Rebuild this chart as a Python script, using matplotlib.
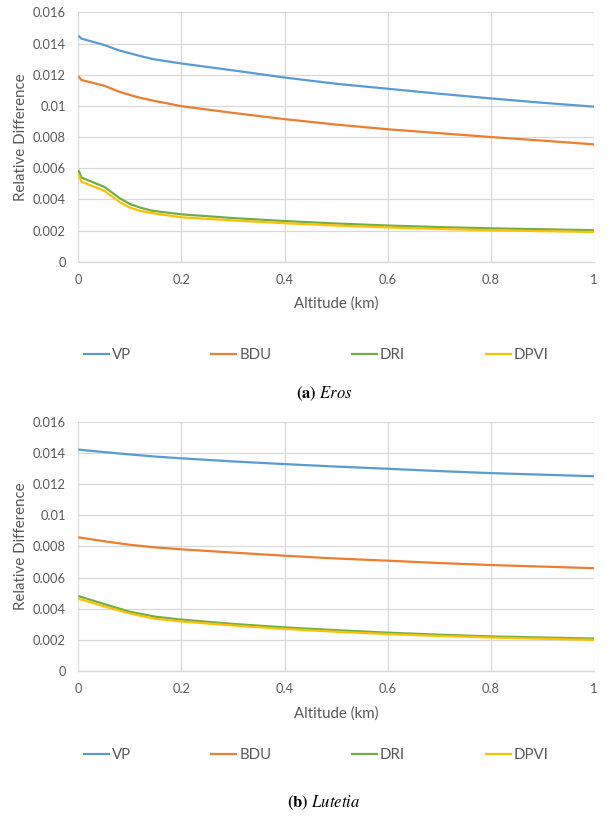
import matplotlib
matplotlib.use("Agg")
import matplotlib.pyplot as plt

plt.rcParams['font.family'] = ['Lato', 'DejaVu Sans']
plt.rcParams['mathtext.fontset'] = 'stix'

series = ["VP", "BDU", "DRI", "DPVI"]
colors = ["#5B9BD5", "#ED7D31", "#70AD47", "#FFC000"]

# (a) Eros
eros_alt = [0, 0.006, 0.05, 0.08, 0.1, 0.12, 0.145, 0.2, 0.3, 0.4, 0.5, 0.6, 0.7, 0.8, 0.9, 1.0]
eros_vp = [0.01451, 0.01432, 0.01391, 0.01355, 0.01338, 0.01320, 0.01300, 0.01272, 0.01228,
           0.01182, 0.01142, 0.01110, 0.01078, 0.01048, 0.01020, 0.00995]
eros_bdu = [0.01191, 0.01166, 0.01130, 0.01090, 0.01070, 0.01052, 0.01034, 0.00998, 0.00955,
            0.00915, 0.00880, 0.00850, 0.00825, 0.00800, 0.00777, 0.00753]
eros_dri = [0.00589, 0.00540, 0.00481, 0.00408, 0.00370, 0.00347, 0.00326, 0.00304, 0.00280,
            0.00261, 0.00245, 0.00232, 0.00222, 0.00214, 0.00208, 0.00202]
eros_dpvi = [0.00562, 0.00513, 0.00456, 0.00383, 0.00347, 0.00326, 0.00311, 0.00285, 0.00265,
             0.00247, 0.00232, 0.00220, 0.00210, 0.00202, 0.00196, 0.00191]

# (b) Lutetia
lut_alt = [0, 0.05, 0.1, 0.15, 0.2, 0.3, 0.4, 0.5, 0.6, 0.7, 0.8, 0.9, 1.0]
lut_vp = [0.01421, 0.01405, 0.01390, 0.01376, 0.01365, 0.01345, 0.01328, 0.01312, 0.01298,
          0.01283, 0.01270, 0.01260, 0.01250]
lut_bdu = [0.00858, 0.00833, 0.00810, 0.00793, 0.00781, 0.00760, 0.00740, 0.00722, 0.00708,
           0.00693, 0.00680, 0.00670, 0.00660]
lut_dri = [0.00481, 0.00430, 0.00380, 0.00348, 0.00330, 0.00302, 0.00280, 0.00262, 0.00246,
           0.00233, 0.00222, 0.00215, 0.00208]
lut_dpvi = [0.00464, 0.00415, 0.00369, 0.00335, 0.00318, 0.00292, 0.00270, 0.00252, 0.00237,
            0.00225, 0.00215, 0.00207, 0.00200]

x_ticks = [0, 0.2, 0.4, 0.6, 0.8, 1]
x_labels = ["0", "0.2", "0.4", "0.6", "0.8", "1"]
y_ticks = [0, 0.002, 0.004, 0.006, 0.008, 0.01, 0.012, 0.014, 0.016]
y_labels = ["0", "0.002", "0.004", "0.006", "0.008", "0.01", "0.012", "0.014", "0.016"]

text_col = "#595959"
grid_col = "#D9D9D9"

fig = plt.figure(figsize=(6.07, 8.16), dpi=100)

panels = [
    (eros_alt, [eros_vp, eros_bdu, eros_dri, eros_dpvi], r"$\mathbf{(a)}$ $\mathit{Eros}$", 0.6793, 0.565, 0.5181),
    (lut_alt, [lut_vp, lut_bdu, lut_dri, lut_dpvi], r"$\mathbf{(b)}$ $\mathit{Lutetia}$", 0.1777, 0.0748, 0.0160),
]

for alt, vals, caption, bottom, leg_y, cap_y in panels:
    ax = fig.add_axes([0.129, bottom, 0.8496, 0.3055])
    lines = []
    for name, col, v in zip(series, colors, vals):
        ln, = ax.plot(alt, v, color=col, lw=1.6, label=name, solid_capstyle='butt')
        lines.append(ln)
    ax.set_xlim(0, 1)
    ax.set_ylim(0, 0.016)
    ax.set_xticks(x_ticks)
    ax.set_xticklabels(x_labels)
    ax.set_yticks(y_ticks)
    ax.set_yticklabels(y_labels)
    ax.grid(True, color=grid_col, lw=0.9)
    ax.set_axisbelow(True)
    for s in ["top", "right", "left"]:
        ax.spines[s].set_visible(False)
    ax.spines["bottom"].set_color(grid_col)
    ax.spines["bottom"].set_linewidth(1.0)
    ax.tick_params(length=0, labelsize=9.3, colors=text_col, pad=9)
    ax.set_xlabel("Altitude (km)", fontsize=10.8, color=text_col)
    ax.set_ylabel("Relative Difference", fontsize=10.8, color=text_col)
    ax.xaxis.set_label_coords(0.5, -0.14)
    ax.yaxis.set_label_coords(-0.098, 0.5)
    fig.legend(handles=lines, loc="center", bbox_to_anchor=(0.52, leg_y), ncol=4,
               frameon=False, fontsize=10.8, handlelength=1.8, handletextpad=0.13,
               columnspacing=5.3, labelcolor=text_col, borderpad=0)
    fig.text(0.534, cap_y, caption, ha="center", va="center", fontsize=12)

fig.savefig("out.png", dpi=100)
